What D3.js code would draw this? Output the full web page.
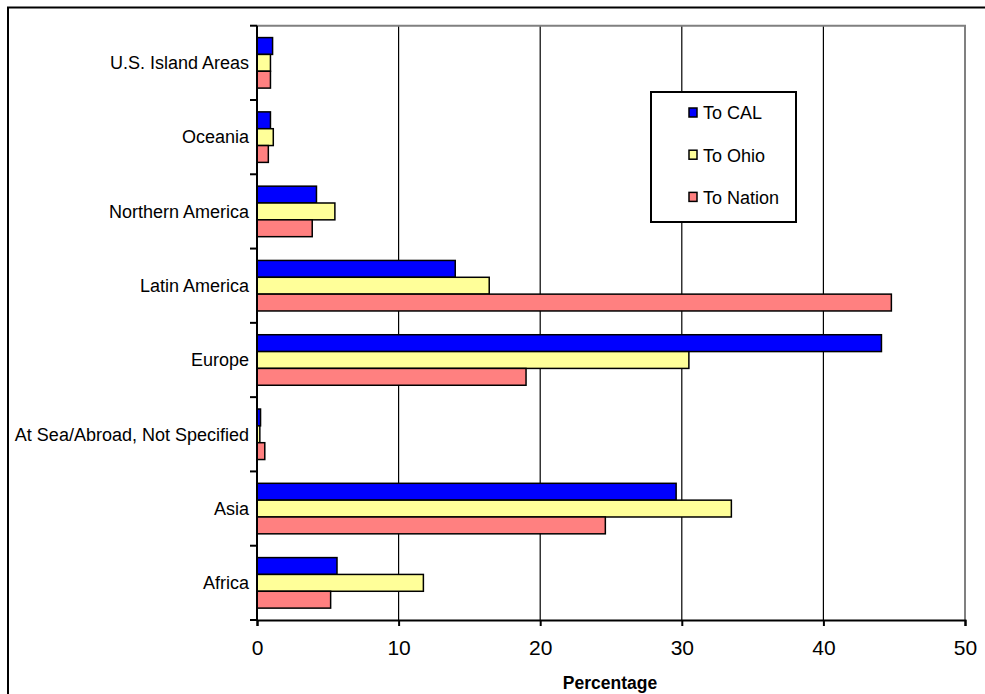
<!DOCTYPE html>
<html>
<head>
<meta charset="utf-8">
<script src="https://cdn.jsdelivr.net/npm/d3@7"></script>
<style>
  body { margin: 0; background: #fff; }
  text { font-family: "Liberation Sans", Arial, sans-serif; fill: #000; }
</style>
</head>
<body>
<div class="d3-chart"></div>
<script>
// categories top to bottom, as in the picture
const regions = ["U.S. Island Areas", "Oceania", "Northern America", "Latin America",
  "Europe", "At Sea/Abroad, Not Specified", "Asia", "Africa"];
const series = ["To CAL", "To Ohio", "To Nation"];
const toCal    = [1.1, 0.95, 4.2, 14.0, 44.1, 0.25, 29.6, 5.65];
const toOhio   = [0.95, 1.15, 5.5, 16.4, 30.5, 0.2, 33.5, 11.75];
const toNation = [0.95, 0.8, 3.9, 44.8, 19.0, 0.55, 24.6, 5.2];
const xTicks = [0, 10, 20, 30, 40, 50];
const colors = ["#0000ff", "#ffff99", "#ff8080"];

const W = 985, H = 694;
const margin = {top: 25.7, left: 257, right: 20, bottom: 74};
const width = 965 - margin.left;
const height = 620 - margin.top;

const root = d3.select(".d3-chart")
  .append("svg")
  .attr("width", W)
  .attr("height", H);

// outer frame (runs off the right and bottom)
root.append("rect")
  .attr("x", 8).attr("y", 7.5)
  .attr("width", 1000).attr("height", 720)
  .attr("fill", "none").attr("stroke", "#000").attr("stroke-width", 2);

const svg = root.append("g")
  .attr("transform", `translate(${margin.left}, ${margin.top})`);

const x = d3.scaleLinear().domain([0, 50]).range([0, width]);

const y = d3.scaleBand()
  .domain(regions)
  .range([0, height])
  .paddingInner(0.32)
  .paddingOuter(0.16);

const inner = d3.scaleBand()
  .domain(series)
  .range([0, y.bandwidth()]);

const color = d3.scaleOrdinal().domain(series).range(colors);

// gridlines
svg.append("g")
  .selectAll("line")
  .data(xTicks.slice(1, -1))
  .join("line")
    .attr("x1", d => x(d)).attr("x2", d => x(d))
    .attr("y1", 0).attr("y2", height)
    .attr("stroke", "#000").attr("stroke-width", 1.2);

// gray plot border top and right
svg.append("path")
  .attr("d", `M0,0H${width}V${height}`)
  .attr("fill", "none").attr("stroke", "#808080").attr("stroke-width", 2);

// bars
const table = regions.map((r, i) => ({
  region: r,
  values: [toCal[i], toOhio[i], toNation[i]].map((v, j) => ({key: series[j], value: v}))
}));

const groups = svg.append("g")
  .selectAll("g")
  .data(table)
  .join("g")
    .attr("transform", d => `translate(0,${y(d.region)})`);

groups.selectAll("rect")
  .data(d => d.values)
  .join("rect")
    .attr("x", x(0))
    .attr("y", d => inner(d.key))
    .attr("width", d => x(d.value) - x(0))
    .attr("height", inner.bandwidth())
    .attr("fill", d => color(d.key))
    .attr("stroke", "#000")
    .attr("stroke-width", 1.5);

// left axis: ticks at the band boundaries
const boundaries = d3.range(regions.length + 1).map(i => i * height / regions.length);

const left = svg.append("g");
left.append("line")
  .attr("x1", 0).attr("x2", 0).attr("y1", 0).attr("y2", height)
  .attr("stroke", "#000").attr("stroke-width", 2);
left.selectAll(".tick")
  .data(boundaries)
  .join("line")
    .attr("x1", -7).attr("x2", 0)
    .attr("y1", d => d).attr("y2", d => d)
    .attr("stroke", "#000").attr("stroke-width", 2);
left.selectAll("text")
  .data(regions)
  .join("text")
    .attr("x", -8)
    .attr("y", d => y(d) + y.bandwidth() / 2)
    .attr("dy", "0.35em")
    .attr("text-anchor", "end")
    .style("font-size", "18px")
    .text(d => d);

// bottom axis
const xAxis = svg.append("g")
  .attr("transform", `translate(0,${height})`)
  .call(d3.axisBottom(x).tickValues(xTicks).tickSize(6).tickPadding(14));
xAxis.select(".domain").attr("stroke-width", 2);
xAxis.selectAll(".tick line").attr("stroke-width", 2);
xAxis.selectAll(".tick text")
  .style("font-size", "21px")
  .style("font-family", "Liberation Sans, Arial, sans-serif")
  .attr("fill", "#000");

svg.append("text")
  .attr("x", width / 2 - 1)
  .attr("y", height + 69)
  .attr("text-anchor", "middle")
  .style("font-size", "17.5px")
  .style("font-weight", "bold")
  .text("Percentage");

// legend
const legend = root.append("g").attr("transform", "translate(651,92)");
legend.append("rect")
  .attr("width", 145).attr("height", 130)
  .attr("fill", "#fff").attr("stroke", "#000").attr("stroke-width", 2);

const items = legend.selectAll(".item")
  .data(series)
  .join("g")
    .attr("transform", (d, i) => `translate(38,${21 + i * 42.2})`);
items.append("rect")
  .attr("x", 0).attr("y", -5)
  .attr("width", 8).attr("height", 9)
  .attr("fill", d => color(d))
  .attr("stroke", "#000").attr("stroke-width", 1.5);
items.append("text")
  .attr("x", 14)
  .attr("y", 0)
  .attr("dy", "0.35em")
  .style("font-size", "18px")
  .text(d => d);
</script>
</body>
</html>
